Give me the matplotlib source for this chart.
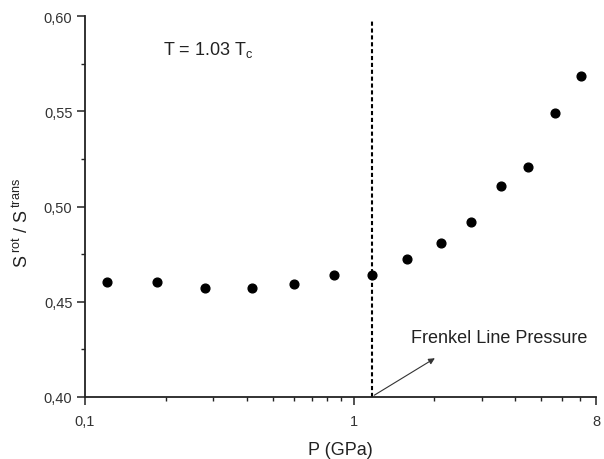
import matplotlib.pyplot as plt
from matplotlib.ticker import FixedLocator, NullFormatter

plt.rcParams['font.family'] = ['Liberation Sans', 'DejaVu Sans']
plt.rcParams['mathtext.fontset'] = 'custom'
plt.rcParams['mathtext.rm'] = 'Liberation Sans'
plt.rcParams['mathtext.it'] = 'Liberation Sans'

# data
pressure = [0.121, 0.186, 0.281, 0.417, 0.600, 0.845, 1.17, 1.58, 2.11,
            2.75, 3.53, 4.48, 5.65, 7.06]
ratio = [0.4605, 0.4605, 0.4573, 0.4573, 0.4593, 0.4640, 0.4640, 0.4726,
         0.4808, 0.4917, 0.5106, 0.5206, 0.5492, 0.5686]
frenkel_p = 1.17

x_major = [0.1, 1, 8]
x_major_labels = ['0,1', '1', '8']
x_minor = [0.2, 0.3, 0.4, 0.5, 0.6, 0.7, 0.8, 0.9, 2, 3, 4, 5, 6, 7]
y_major = [0.40, 0.45, 0.50, 0.55, 0.60]
y_major_labels = ['0,40', '0,45', '0,50', '0,55', '0,60']
y_minor = [0.425, 0.475, 0.525, 0.575]

fig = plt.figure(figsize=(6.04, 4.60), dpi=100)
ax = fig.add_axes([0.1407, 0.1354, 0.8461, 0.827])

ax.plot(pressure, ratio, 'o', color='black', markersize=6.3, zorder=3,
        clip_on=False)
ax.plot([frenkel_p, frenkel_p], [0.40, 0.598], color='black', lw=1.5,
        dashes=(2.0, 1.3))

ax.set_xscale('log')
ax.set_xlim(0.1, 8)
ax.set_ylim(0.40, 0.60)

ax.xaxis.set_major_locator(FixedLocator(x_major))
ax.xaxis.set_minor_locator(FixedLocator(x_minor))
ax.xaxis.set_minor_formatter(NullFormatter())
ax.set_xticklabels(x_major_labels)
ax.yaxis.set_major_locator(FixedLocator(y_major))
ax.yaxis.set_minor_locator(FixedLocator(y_minor))
ax.set_yticklabels(y_major_labels)

for s in ['top', 'right']:
    ax.spines[s].set_visible(False)
for s in ['left', 'bottom']:
    ax.spines[s].set_linewidth(1.3)
    ax.spines[s].set_color('#222222')

ax.tick_params(which='major', direction='out', length=5.5, width=1.1,
               labelsize=10.5, colors='#222222', labelcolor='#333333')
ax.tick_params(axis='x', which='major', pad=7)
ax.tick_params(which='minor', direction='out', length=3, width=1.0,
               colors='#222222')

ax.set_xlabel('P (GPa)', fontsize=13, color='#222222', labelpad=9)
ax.set_ylabel(r'S$^{\;\mathrm{rot}}$ / S$^{\;\mathrm{trans}}$', fontsize=13,
              color='#222222')
ax.yaxis.set_label_coords(-0.104, 0.46)

ax.text(0.195, 0.5828, r'T = 1.03 T$_{\mathrm{c}}$', fontsize=13,
        va='center', ha='left', color='#222222')
ax.text(1.639, 0.4309, 'Frenkel Line Pressure', fontsize=13,
        va='center', ha='left', color='#222222')
ax.annotate('', xy=(2.05, 0.421), xytext=(frenkel_p, 0.40),
            arrowprops=dict(arrowstyle='-|>', color='#333333', lw=0.8,
                            mutation_scale=9))

fig.savefig('out.png', dpi=100)
